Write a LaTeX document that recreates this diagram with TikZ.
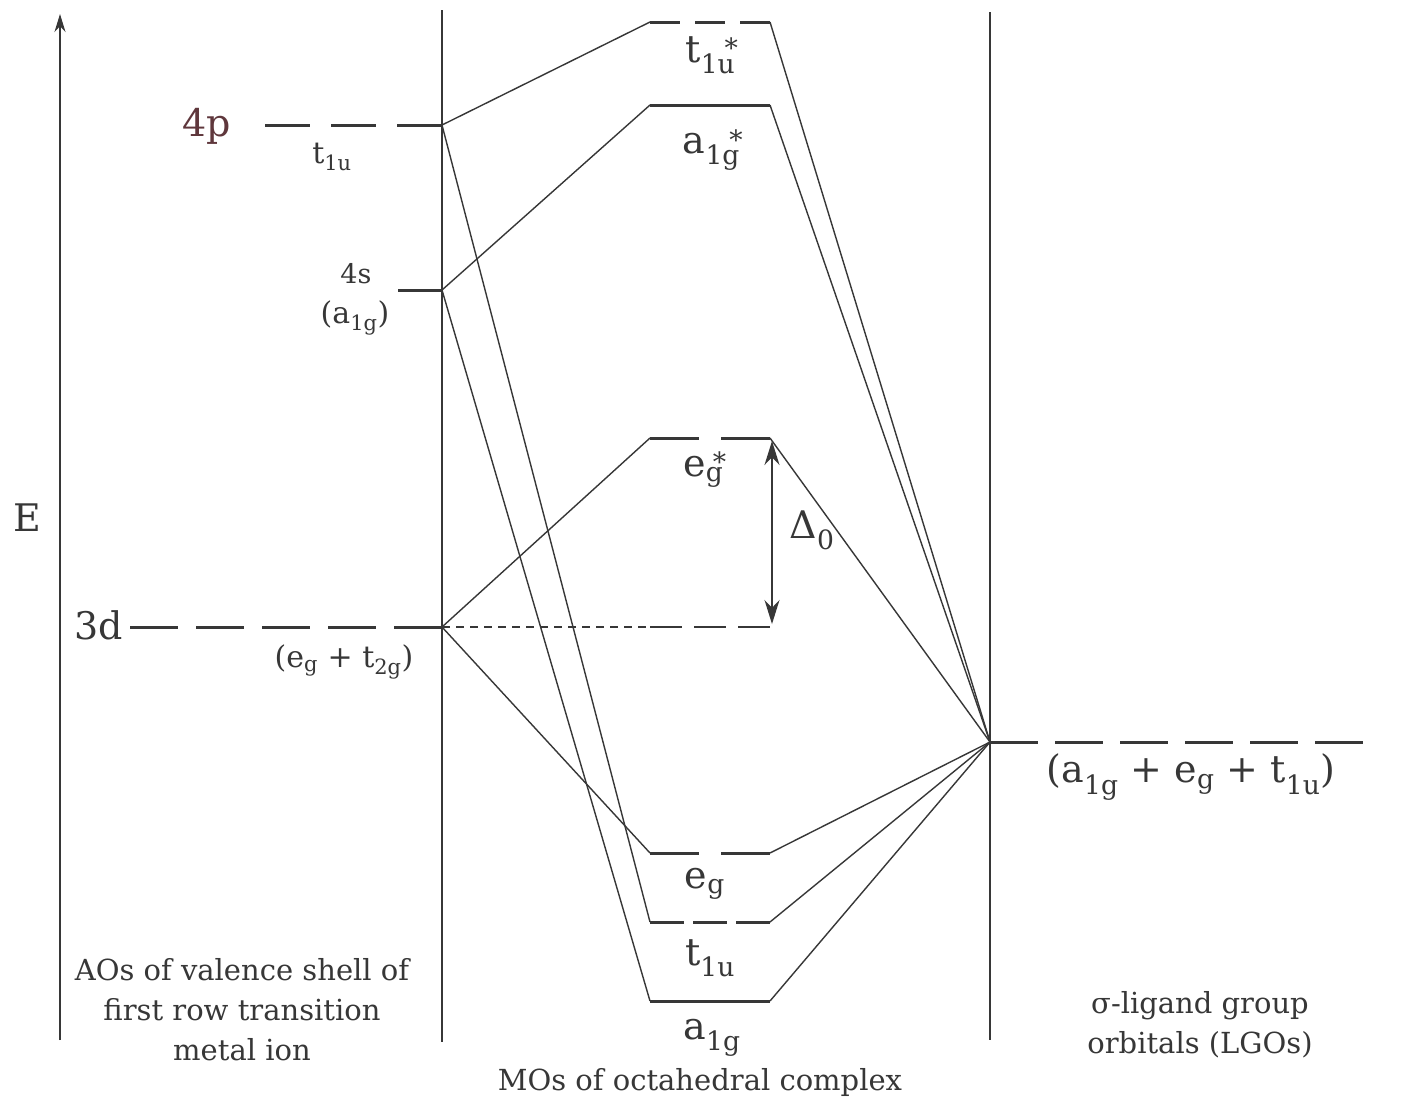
\documentclass[tikz,border=0pt]{standalone}
\usepackage{fontspec}
\setmainfont{DejaVu Serif}
\usetikzlibrary{arrows.meta}
\newcommand\sbs[1]{\textsubscript{#1}}
\newcommand\sbst[1]{\textsubscript{#1}\kern-0.28em\raisebox{-0.12em}{\textsuperscript{*}}}
\definecolor{inkc}{RGB}{55,55,55}
\definecolor{brownc}{RGB}{95,55,60}
\begin{document}
\begin{tikzpicture}[x=1pt,y=-1pt,
  lvl/.style={line width=3pt, draw=inkc},
  conn/.style={line width=1.4pt, draw=inkc},
  frame/.style={line width=1.4pt, draw=inkc},
  big/.style={text=inkc, font=\fontsize{38}{44}\selectfont, inner sep=0pt},
  mid/.style={text=inkc, font=\fontsize{30}{36}\selectfont, inner sep=0pt},
  captext/.style={text=inkc, font=\fontsize{29}{40}\selectfont, align=center, inner sep=0pt},
]
\useasboundingbox[fill=white] (0,0) rectangle (1422,1104);
% frame lines
\coordinate (axB) at (60,1040);
\coordinate (axT) at (60,14);
\coordinate (v1T) at (442,10);
\coordinate (v1B) at (442,1042);
\coordinate (v2T) at (990,12);
\coordinate (v2B) at (990,1040);
\draw[frame,-{Stealth[length=18pt,width=11pt]}] (axB) -- (axT);
\draw[frame] (v1T) -- (v1B);
\draw[frame] (v2T) -- (v2B);
% metal AO levels
\coordinate (p4L) at (265,125);  \coordinate (p4R) at (442,125);
\coordinate (s4L) at (398,290);  \coordinate (s4R) at (442,290);
\coordinate (d3L) at (130,627);  \coordinate (d3R) at (442,627);
\draw[lvl, dash pattern=on 45pt off 21pt] (p4L) -- (p4R);
\draw[lvl] (s4L) -- (s4R);
\draw[lvl, dash pattern=on 48pt off 18pt] (d3L) -- (d3R);
% MO levels
\coordinate (t1usL) at (650,22);   \coordinate (t1usR) at (770,22);
\coordinate (a1gsL) at (650,105);  \coordinate (a1gsR) at (770,105);
\coordinate (egsL) at (650,438);   \coordinate (egsR) at (770,438);
\coordinate (egL) at (650,853);    \coordinate (egR) at (770,853);
\coordinate (t1uL) at (650,922);   \coordinate (t1uR) at (770,922);
\coordinate (a1gL) at (650,1001);  \coordinate (a1gR) at (770,1001);
\draw[lvl, dash pattern=on 30pt off 15pt] (t1usL) -- (t1usR);
\draw[lvl] (a1gsL) -- (a1gsR);
\draw[lvl, dash pattern=on 49pt off 22pt] (egsL) -- (egsR);
\draw[lvl, dash pattern=on 49pt off 22pt] (egL) -- (egR);
\draw[lvl, dash pattern=on 34pt off 9pt] (t1uL) -- (t1uR);
\draw[lvl] (a1gL) -- (a1gR);
% LGO level
\coordinate (lgoL) at (990,742);  \coordinate (lgoR) at (1365,742);
\draw[lvl, dash pattern=on 48pt off 17pt] (lgoL) -- (lgoR);
% 3d reference line and Delta arrow
\coordinate (dbL) at (650,627);  \coordinate (dbR) at (770,627);
\draw[line width=1.2pt, draw=inkc, dash pattern=on 8pt off 6pt] (d3R) -- (dbL);
\draw[lvl, line width=2.5pt, dash pattern=on 32pt off 12pt] (dbL) -- (dbR);
\coordinate (dT) at (772,441);  \coordinate (dB) at (772,624);
\draw[conn,{Stealth[length=24pt,width=15pt]}-{Stealth[length=24pt,width=15pt]}] (dT) -- (dB);
% connectors metal side
\draw[conn] (p4R) -- (t1usL);
\draw[conn] (p4R) -- (t1uL);
\draw[conn] (s4R) -- (a1gsL);
\draw[conn] (s4R) -- (a1gL);
\draw[conn] (d3R) -- (egsL);
\draw[conn] (d3R) -- (egL);
% connectors ligand side
\draw[conn] (lgoL) -- (t1usR);
\draw[conn] (lgoL) -- (a1gsR);
\draw[conn] (lgoL) -- (egsR);
\draw[conn] (lgoL) -- (egR);
\draw[conn] (lgoL) -- (t1uR);
\draw[conn] (lgoL) -- (a1gR);
% labels
\node[big, text=brownc] (l4p) at (207,126) {4p};
\node[mid] (l4pt) at (332,157) {t\sbs{1u}};
\node[mid, font=\fontsize{27}{30}\selectfont] (l4s) at (356,274) {4s};
\node[mid] (l4sa) at (355,318) {(a\sbs{1g})};
\node[big] (l3d) at (99,625) {3d};
\node[mid] (l3dl) at (344,662) {(e\sbs{g} + t\sbs{2g})};
\node[big] (lE) at (27,518) {E};
\node[big] (lt1us) at (712,55) {t\sbst{1u}};
\node[big] (la1gs) at (713,150) {a\sbst{1g}};
\node[big] (legs) at (705,470) {e\sbst{g}};
\node[big] (leg) at (705,884) {e\sbs{g}};
\node[big] (lt1u) at (710,958) {t\sbs{1u}};
\node[big] (la1g) at (712,1038) {a\sbs{1g}};
\node[big] (lD) at (812,530) {Δ\sbs{0}};
\node[big] (llgo) at (1191,777) {(a\sbs{1g} + e\sbs{g} + t\sbs{1u})};
\node[captext] (cL) at (242,1010) {AOs of valence shell of\\first row transition\\metal ion};
\node[captext] (cM) at (700,1082) {MOs of octahedral complex};
\node[captext] (cR) at (1200,1025) {σ-ligand group\\orbitals (LGOs)};
\end{tikzpicture}
\end{document}
